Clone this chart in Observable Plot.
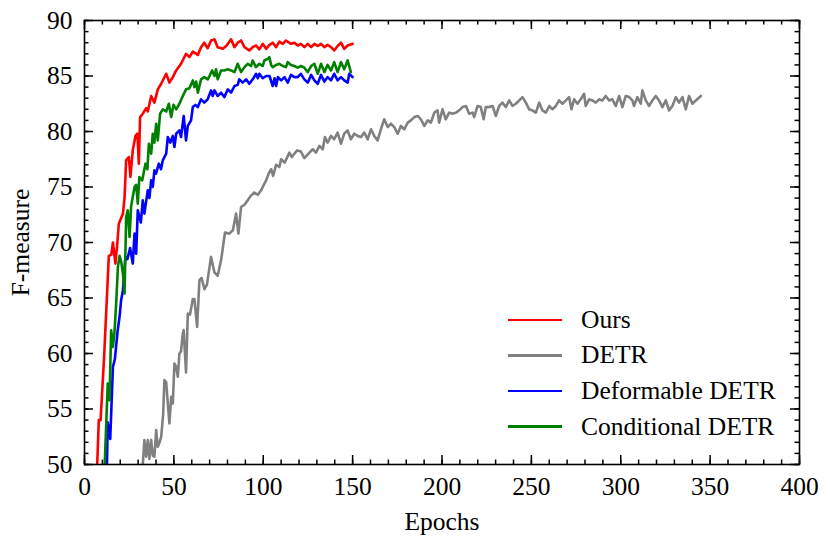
<!DOCTYPE html>
<html><head><meta charset="utf-8">
<script src="https://cdn.jsdelivr.net/npm/d3@7"></script>
<script src="https://cdn.jsdelivr.net/npm/@observablehq/plot@0.6"></script>
<style>
body{margin:0;background:#fff;font-family:"Liberation Serif","DejaVu Serif",serif;}
#wrap{position:relative;width:830px;height:546px;}
#legend{position:absolute;left:508px;top:302px;font-size:25.5px;color:#000;}
.row{display:flex;align-items:center;height:35.6px;}
.sw{width:54px;height:2.6px;margin-right:19px;}
</style></head><body><div id="wrap"></div>
<script>
const seriesNames = ["Ours", "DETR", "Deformable DETR", "Conditional DETR"];
const seriesColors = ["#ff0000", "#808080", "#0000ff", "#008000"];
const xTicks = [0, 50, 100, 150, 200, 250, 300, 350, 400];
const yTicks = [50, 55, 60, 65, 70, 75, 80, 85, 90];

const oursEpoch = [7,8,9,11,13,13.6,15,15.9,17.3,18.3,
19.2,20.5,21.5,22.4,23.3,24.8,25.7,27,28.5,29.6,
30.4,31.1,32.6,34.5,35.4,37.3,39.1,41,42.9,45.7,
47.5,49.4,51.3,54,56.8,58.7,60.6,63.4,65.2,67,
68.9,70.8,72.7,74.5,77.4,79.3,82,83.9,85.7,87.6,
89.5,92.2,94.1,96,97.8,99.7,101.6,103.5,105.3,107.2,
109,111,112.7,115.5,117.4,119.3,121.1,123,124.9,126.8,
128.6,130.5,132.3,134.2,136,137.9,139.7,141.6,143.5,145.3,
147.2,150];
const oursValue = [49.5,54.0,54.0,59.8,66.7,68.8,68.9,70.0,68.1,69.8,
71.7,72.2,72.6,74.0,77.4,77.7,75.9,78.3,79.6,79.8,
77.1,81.3,81.6,82.1,81.8,83.2,82.6,83.8,84.3,85.2,
84.4,84.9,85.5,86.1,87.0,86.7,87.2,86.9,87.6,88.0,
87.5,88.2,88.3,87.6,87.45,87.7,88.3,87.6,88.0,88.2,
87.6,87.3,87.6,87.75,87.4,87.9,87.45,87.8,88.0,87.6,
88.1,87.9,88.2,87.9,88.0,87.75,87.9,87.6,87.9,87.6,
87.9,87.7,87.9,87.6,87.8,87.6,87.3,87.7,88.0,87.45,
87.75,87.9];

const detrEpoch = [32.4,33.5,34.5,35.4,36.3,37.3,38.2,39.1,40.1,41,
42,42.9,44,44.7,45.7,46.6,47.5,48.5,49.4,50.3,
51.3,52.2,53.1,54,55,55.5,56.8,57.8,59,60.6,
61.5,63,64.3,65.5,67.1,68.5,70.8,72.7,74.5,76.5,
78.6,81,83,84.8,86.1,87.6,89.5,91.3,93,95,
97,98.8,99.7,101.6,103,104.4,105.5,107.2,109,110,
112,114.6,116,117.4,119,121,123,125.8,127.7,129.5,
131.4,133.3,134.5,136,137.9,139.7,141.6,143.5,145.3,147.2,
149,150.9,152.8,154.7,156.5,158.4,160.3,162.1,164,165.8,
167.7,169.6,171.4,173.3,175.2,177,178.9,180.8,182.6,184.5,
186.4,188.2,190.1,192,193.8,195.7,197.5,198.4,200.3,202.1,
204,205.9,207.8,209.6,211.5,213.4,215.2,217.1,218,219.9,
221.7,223.3,224.5,226.4,228.3,230.1,232,233.8,235.7,237.6,
239.4,241.3,243.2,245,246.9,248.8,250.6,252.5,254.4,256.2,
258.1,260,261.8,263.7,265.5,267.4,269.3,271.1,272.4,273.9,
275.8,277.6,279.5,280.4,282.3,284.1,286,287.9,289.7,291.6,
293.5,295.3,297.2,299.1,300.9,302.8,304.7,306.5,307.4,309.3,
311.2,312.1,314,315.8,317.7,319.6,321.4,323.3,325.2,327,
328.9,330.8,332.6,334.5,336.4,338.2,340.1,342,344.8];
const detrValue = [49.5,52.2,50.7,52.2,50.5,52.2,50.8,50.7,53.1,51.6,
52.0,52.5,54.5,57.6,57.4,55.5,53.7,56.1,55.5,59.1,
58.8,57.9,60.0,60.2,61.8,62.1,58.3,63.6,63.5,64.9,
64.9,62.4,66.6,66.8,65.8,66.2,68.7,67.3,67.0,68.5,
70.9,70.8,71.1,72.6,70.8,73.2,73.4,73.8,74.2,74.5,
74.3,74.7,75.0,75.6,76.2,76.6,76.0,77.0,76.8,77.5,
77.2,78.1,77.7,78.0,78.3,78.2,77.6,78.1,78.4,78.1,
78.7,78.4,79.5,79.0,79.6,79.3,79.9,78.9,79.8,80.1,
79.3,79.8,79.6,79.5,79.9,79.3,80.2,79.6,79.2,80.2,
81.1,80.4,80.7,80.4,79.8,80.5,80.2,80.8,81.0,81.3,
81.4,81.1,80.5,81.0,80.8,81.7,81.9,80.8,82.0,81.1,
81.7,81.6,81.7,81.9,82.2,82.3,81.6,81.7,81.3,82.3,
82.2,81.1,82.2,82.2,82.3,81.4,82.3,82.6,82.2,82.8,
82.3,82.5,82.8,83.1,82.6,82.0,81.9,81.7,82.6,81.9,
81.7,82.3,82.0,82.3,82.8,82.5,82.8,83.1,82.0,82.9,
82.5,82.9,83.4,82.3,82.9,82.8,82.6,82.9,82.8,83.2,
82.8,82.9,82.3,83.2,82.2,83.2,83.1,82.8,82.3,83.1,
82.5,83.7,82.8,82.3,82.8,83.2,82.8,82.2,82.8,81.9,
82.3,83.1,82.6,83.1,82.0,83.2,82.5,82.8,83.2];

const deformEpoch = [12.5,13,14.4,15.9,17,18.5,19.6,20.5,21.5,
22.9,24,25.5,27,28,28.9,29.8,30.7,31.5,32.6,
33.5,35.4,36.3,37.3,38.2,39.1,40,41.6,42.8,43.8,
45.7,46.6,48,49.4,50.3,51.3,53.1,54,55.5,56.8,
57.8,59.6,60.6,62,63.4,65.2,67,68.9,70.8,71.7,
72.7,74.5,76.4,78.2,80.2,82,83.9,85.7,86.6,88.5,
90.4,92.2,94.1,96,97,97.8,99.7,101.6,103.5,105.3,
106.3,107.2,108.2,110,111.9,113.7,115.5,117.4,119.3,121,
123,124.9,126.8,128.6,130.5,132.3,134.2,136,137.9,139.7,
141.6,143.5,145.3,147.2,148.1,150];
const deformValue = [49.5,53.8,52.3,58.8,59.5,62.0,63.3,64.8,65.7,
68.7,68.5,69.5,68.1,70.8,69.0,72.9,72.3,71.8,73.8,
72.6,74.7,74.0,75.6,75.0,76.5,76.2,77.1,76.6,77.4,
78.0,79.5,79.0,79.6,78.6,79.8,80.1,79.5,81.4,79.2,
80.5,81.0,82.2,82.4,82.2,82.9,82.6,82.9,83.7,83.2,
83.7,83.2,83.5,83.1,83.8,83.5,84.1,84.2,84.7,84.4,
84.7,84.3,84.7,85.2,84.8,85.2,84.8,85.0,85.0,84.1,
84.8,84.1,84.9,84.6,84.9,84.4,85.1,84.9,84.9,85.2,
84.7,84.4,85.1,84.6,84.3,85.1,84.5,84.9,84.6,85.2,
84.6,84.9,84.6,84.4,85.2,84.9];

const condEpoch = [11.2,12,13,14,14.9,15.9,16.8,17.7,18.7,19.6,
20.5,21.5,22.4,23.3,24.2,25.2,26.1,28,28.9,29.8,
30.7,32.3,34.1,35.2,36,37.3,38.2,39.1,40.1,41,
42.3,43.8,45.7,47.2,48.5,49.8,51.3,53.1,55,56.8,
58.7,60.6,61.5,62.5,63.4,65.2,67,69,71.4,72.7,
73.6,74.5,76.4,78.2,80.2,82,83.9,85.7,87.6,89.5,
91.3,93.2,94.1,95.9,97.8,99.7,100.6,102.5,103.4,104.4,
105.3,107.2,109,110.9,112.7,113.7,115.5,117.4,119.3,121.1,
123,124.9,126.8,128.6,130.5,132.3,134.2,136,137.9,139.7,
141.6,143.5,145.3,147.2,149];
const condValue = [49.5,53.0,57.3,55.8,62.1,60.6,62.0,64.5,67.8,68.8,
68.3,67.2,65.4,72.3,72.9,70.5,73.3,75.0,75.2,73.5,
75.9,75.6,77.1,76.6,78.9,78.0,79.8,79.0,80.7,79.2,
81.6,82.0,81.8,82.5,81.3,82.4,82.0,82.5,83.2,83.8,
83.9,84.6,84.0,84.5,83.5,84.7,84.9,84.7,85.5,85.0,
85.6,84.7,85.5,85.5,85.6,85.5,85.35,86.1,85.35,85.8,
86.1,85.9,86.4,85.8,86.1,85.9,86.4,86.55,86.7,86.0,
85.8,86.0,86.1,85.9,85.8,86.25,86.0,85.9,85.75,85.9,
85.75,85.35,85.9,86.1,85.2,86.1,85.35,86.0,85.5,86.25,
85.35,86.25,85.6,86.4,85.35];

const toRows = (name, ep, val) => ep.map((e, i) => ({series: name, epoch: e, value: val[i]}));
const rows = [
  ...toRows(seriesNames[0], oursEpoch, oursValue),
  ...toRows(seriesNames[1], detrEpoch, detrValue),
  ...toRows(seriesNames[2], deformEpoch, deformValue),
  ...toRows(seriesNames[3], condEpoch, condValue)
];

const W = 830, H = 546, mL = 84, mR = 31, mT = 20, mB = 82;
const iW = W - mL - mR, iH = H - mT - mB;
const majLen = 9, minLen = 4.5, tw = 1.5;
const xMinor = d3.range(0, 401, 10);
const yMinor = d3.range(50, 91, 1);

const chart = Plot.plot({
  width: W, height: H,
  marginLeft: mL, marginRight: mR, marginTop: mT, marginBottom: mB,
  style: {fontFamily: "Liberation Serif, serif", fontSize: "25.5px", color: "#000", background: "#fff", overflow: "visible"},
  x: {domain: [0, 400]},
  y: {domain: [50, 90]},
  color: {domain: seriesNames, range: seriesColors},
  marks: [
    Plot.line(rows, {x: "epoch", y: "value", z: "series", stroke: "series", strokeWidth: 2.6, clip: true}),
    // ticks inward, all four sides
    Plot.ruleX(xTicks, {insetTop: iH - majLen, stroke: "#000", strokeWidth: tw}),
    Plot.ruleX(xTicks, {insetBottom: iH - majLen, stroke: "#000", strokeWidth: tw}),
    Plot.ruleX(xMinor, {insetTop: iH - minLen, stroke: "#000", strokeWidth: tw}),
    Plot.ruleX(xMinor, {insetBottom: iH - minLen, stroke: "#000", strokeWidth: tw}),
    Plot.ruleY(yTicks, {insetRight: iW - majLen, stroke: "#000", strokeWidth: tw}),
    Plot.ruleY(yTicks, {insetLeft: iW - majLen, stroke: "#000", strokeWidth: tw}),
    Plot.ruleY(yMinor, {insetRight: iW - minLen, stroke: "#000", strokeWidth: tw}),
    Plot.ruleY(yMinor, {insetLeft: iW - minLen, stroke: "#000", strokeWidth: tw}),
    Plot.axisX({ticks: xTicks, tickSize: 0, tickPadding: 12, tickFormat: d => String(d),
      label: "Epochs", labelAnchor: "center", labelArrow: "none", labelOffset: 65}),
    Plot.axisY({ticks: yTicks, tickSize: 0, tickPadding: 12, tickFormat: d => String(d),
      label: "F-measure", labelAnchor: "center", labelArrow: "none", labelOffset: 74}),
    Plot.frame({stroke: "#000", strokeWidth: 1.6})
  ]
});

const wrap = document.getElementById("wrap");
wrap.appendChild(chart);
const legend = document.createElement("div");
legend.id = "legend";
seriesNames.forEach((n, i) => {
  const r = document.createElement("div");
  r.className = "row";
  const s = document.createElement("span");
  s.className = "sw";
  s.style.background = seriesColors[i];
  const t = document.createElement("span");
  t.textContent = n;
  r.appendChild(s); r.appendChild(t);
  legend.appendChild(r);
});
wrap.appendChild(legend);
</script>
</body></html>
